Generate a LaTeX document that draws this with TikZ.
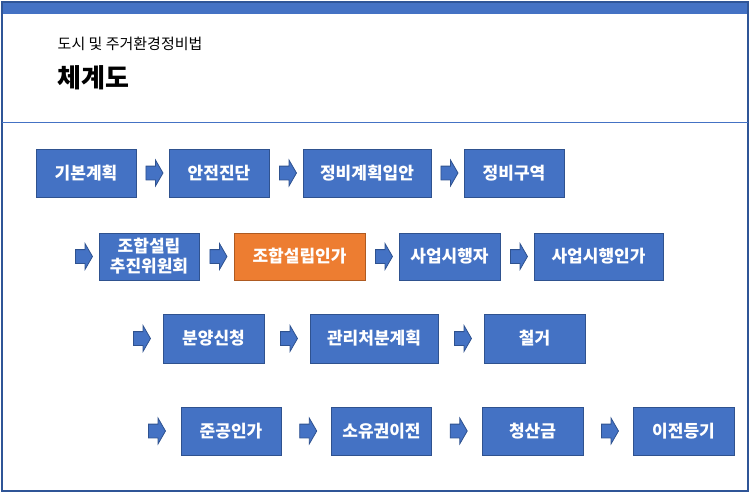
\documentclass[tikz,border=0pt]{standalone}
\usepackage{fontspec}
\setmainfont{Noto Sans CJK KR}[BoldFont={Noto Sans CJK KR Black}]
\usetikzlibrary{shapes.arrows,calc}
\definecolor{boxblue}{HTML}{4472C4}
\definecolor{boxedge}{HTML}{2F528F}
\definecolor{boxorange}{HTML}{ED7D31}
\definecolor{orangeedge}{HTML}{AE5A21}
\definecolor{frameblue}{HTML}{2F5597}
\begin{document}
\begin{tikzpicture}[x=1pt,y=-1pt,
  stepbox/.style={draw=boxedge,line width=1pt,fill=boxblue,text=white,font=\bfseries\fontsize{17}{19}\selectfont,inner sep=0pt,align=center,minimum height=48pt},
  orangebox/.style={stepbox,draw=orangeedge,fill=boxorange},
  blockarrow/.style={shape=single arrow,draw=boxedge,line width=0.8pt,fill=boxblue,inner xsep=0pt,inner ysep=6.5pt,minimum width=25pt,minimum height=17pt,single arrow head extend=6pt,single arrow tip angle=120}]
\useasboundingbox (0,0) rectangle (750,493);
% frame
\fill[boxblue] (2,2) rectangle (748,14);
\draw[frameblue,line width=1.2pt] (2,2) rectangle (748,491);
\draw[boxblue,line width=1pt] (2,122) -- (748,122);
% titles
\node[anchor=west,inner sep=0pt,font=\fontsize{15}{17}\selectfont] (sub) at (57.5,44) {도시 및 주거환경정비법};
\node[anchor=west,inner sep=0pt,font=\bfseries\fontsize{26}{29}\selectfont] (title) at (57,78) {체계도};
% row 1
\node[stepbox,minimum width=100pt] (a1) at (86,173) {기본계획};
\node[stepbox,minimum width=100pt] (a2) at (219,173) {안전진단};
\node[stepbox,minimum width=128pt] (a3) at (367,173) {정비계획입안};
\node[stepbox,minimum width=100pt] (a4) at (514,173) {정비구역};
% row 2
\node[stepbox,minimum width=100pt,minimum height=47pt,font=\bfseries\fontsize{17}{20}\selectfont] (b1) at (149,256.5) {조합설립\\추진위원회};
\node[orangebox,minimum width=131pt,minimum height=47pt] (b2) at (299.5,256.5) {조합설립인가};
\node[stepbox,minimum width=101pt,minimum height=47pt] (b3) at (449.5,256.5) {사업시행자};
\node[stepbox,minimum width=129pt,minimum height=47pt] (b4) at (598.5,256.5) {사업시행인가};
% row 3
\node[stepbox,minimum width=101pt,minimum height=49pt] (c1) at (213.5,338.5) {분양신청};
\node[stepbox,minimum width=128pt,minimum height=49pt] (c2) at (374,338.5) {관리처분계획};
\node[stepbox,minimum width=101pt,minimum height=49pt] (c3) at (534.5,338.5) {철거};
% row 4
\node[stepbox,minimum width=100pt] (d1) at (231,431) {준공인가};
\node[stepbox,minimum width=100pt] (d2) at (381.5,431) {소유권이전};
\node[stepbox,minimum width=101pt] (d3) at (532.5,431) {청산금};
\node[stepbox,minimum width=101pt] (d4) at (683.5,431) {이전등기};
% lead-in points
\coordinate (lb) at (82,256.5);
\coordinate (lc) at (140,338.5);
\coordinate (ld) at (155,431);
% arrows
\node[blockarrow] (ar1) at ($(a1.east)!0.5!(a2.west)$) {};
\node[blockarrow] (ar2) at ($(a2.east)!0.5!(a3.west)$) {};
\node[blockarrow] (ar3) at ($(a3.east)!0.5!(a4.west)$) {};
\node[blockarrow] (br0) at (lb) {};
\node[blockarrow] (br1) at ($(b1.east)!0.5!(b2.west)$) {};
\node[blockarrow] (br2) at ($(b2.east)!0.5!(b3.west)$) {};
\node[blockarrow] (br3) at ($(b3.east)!0.5!(b4.west)$) {};
\node[blockarrow] (cr0) at (lc) {};
\node[blockarrow] (cr1) at ($(c1.east)!0.5!(c2.west)$) {};
\node[blockarrow] (cr2) at ($(c2.east)!0.5!(c3.west)$) {};
\node[blockarrow] (dr0) at (ld) {};
\node[blockarrow] (dr1) at ($(d1.east)!0.5!(d2.west)$) {};
\node[blockarrow] (dr2) at ($(d2.east)!0.5!(d3.west)$) {};
\node[blockarrow] (dr3) at ($(d3.east)!0.5!(d4.west)$) {};
\end{tikzpicture}
\end{document}
